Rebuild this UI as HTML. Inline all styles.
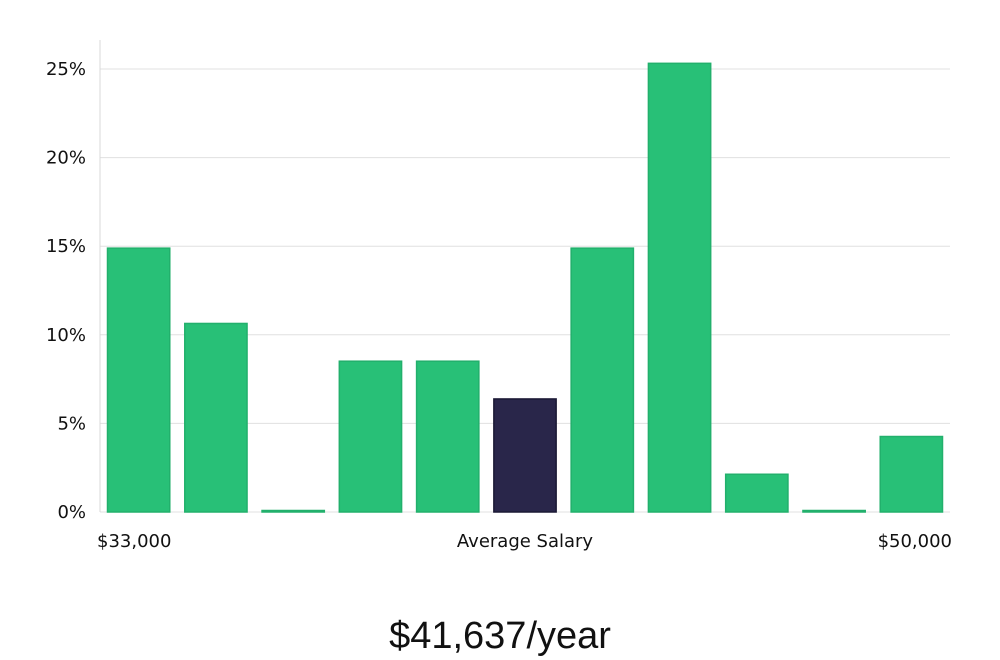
<!DOCTYPE html>
<html><head><meta charset="utf-8"><style>
html,body{margin:0;padding:0;background:#fff;width:1000px;height:660px;overflow:hidden}
svg{display:block}
text{font-family:"DejaVu Sans","Liberation Sans",sans-serif;fill:#111}
</style></head><body>
<svg id="chart" width="1000" height="660">
<g id="grid"></g>
<g id="bars"></g>
<g id="ylabels"></g>
<line x1="100" y1="40" x2="100" y2="512" stroke="#d9d9d9"/>
<text x="97" y="547" font-size="18">$33,000</text>
<text x="525" y="547" font-size="18" text-anchor="middle">Average Salary</text>
<text x="952" y="547" font-size="18" text-anchor="end">$50,000</text>
<text x="500" y="648" font-size="38" text-anchor="middle" style="font-family:'Liberation Sans',sans-serif;font-weight:300">$41,637/year</text>
</svg>
<script>
const categories = ["b1","b2","b3","b4","b5","b6","b7","b8","b9","b10","b11"];
const values = [14.89,10.64,0,8.51,8.51,6.38,14.89,25.32,2.13,0,4.26];
const highlightIndex = [5];
const yTicks = [0,5,10,15,20,25];
const yTickLabels = ["0%","5%","10%","15%","20%","25%"];
const ns="http://www.w3.org/2000/svg";
const x0=100,x1=950,yBase=512,yTop=69,yMaxVal=25;
const y=v=>yBase-(v/yMaxVal)*(yBase-yTop);
const slot=(x1-x0)/categories.length;
const grid=document.getElementById('grid'),yl=document.getElementById('ylabels'),bars=document.getElementById('bars');
yTicks.forEach((t,i)=>{
  const l=document.createElementNS(ns,'line');
  l.setAttribute('x1',x0);l.setAttribute('x2',x1);l.setAttribute('y1',y(t));l.setAttribute('y2',y(t));
  l.setAttribute('stroke','#e0e0e0');
  
  
  grid.appendChild(l);
  const tx=document.createElementNS(ns,'text');
  tx.setAttribute('x',86);tx.setAttribute('y',y(t)+6);tx.setAttribute('text-anchor','end');tx.setAttribute('font-size','18');
  tx.textContent=yTickLabels[i];
  
  
  yl.appendChild(tx);
});
categories.forEach((c,i)=>{
  const r=document.createElementNS(ns,'rect');
  const hi=highlightIndex.includes(i);
  const top=Math.min(y(values[i]),yBase-1.5);
  r.setAttribute('x',x0+i*slot+7.5);r.setAttribute('width',slot-15);
  r.setAttribute('y',top);r.setAttribute('height',yBase-top);
  r.setAttribute('fill',hi?'#29264a':'#28c077');
  r.setAttribute('stroke',hi?'#1a1834':'#22b06c');
  r.setAttribute('stroke-width','1.5');
  
  
  bars.appendChild(r);
});
</script>
</body></html>
